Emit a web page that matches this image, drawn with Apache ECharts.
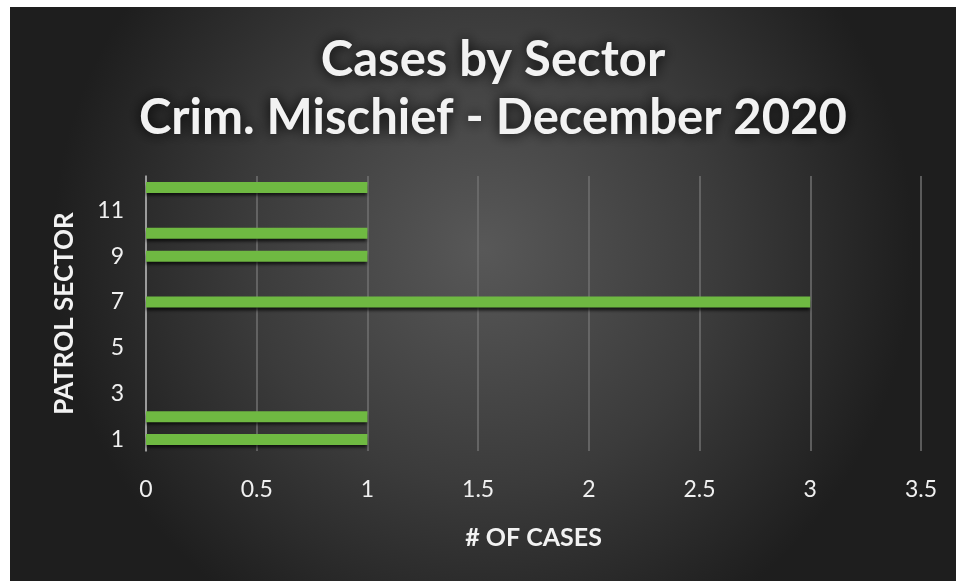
<!DOCTYPE html>
<html>
<head>
<meta charset="utf-8">
<script src="https://cdn.jsdelivr.net/npm/echarts@6/dist/echarts.min.js"></script>
<style>
html,body{margin:0;padding:0;background:#fff;width:956px;height:581px;overflow:hidden;}
#c{position:absolute;left:10px;top:7px;width:946px;height:574px;}
</style>
</head>
<body>
<div id="c"></div>
<script>
const sectors = ['1','2','3','4','5','6','7','8','9','10','11','12'];
const cases = [1,1,0,0,0,0,3,0,1,1,0,1];
const titleLines = ['Cases by Sector','Crim. Mischief - December 2020'];
const xName = '# OF CASES';
const yName = 'PATROL SECTOR';

const chart = echarts.init(document.getElementById('c'));
const FONT = 'Lato';
chart.setOption({
  animation:false,
  graphic:[{
    type:'rect', z:-10, silent:true,
    shape:{x:0,y:0,width:946,height:574},
    style:{fill:{type:'radial',x:0.5,y:0.42,r:0.75,colorStops:[
      {offset:0,color:'#585858'},{offset:0.55,color:'#3b3b3b'},{offset:1,color:'#1e1e1e'}]}}
  }],
  title:{
    text:titleLines.join('\n'),
    left:478, top:19, textAlign:'center',
    textStyle:{fontFamily:FONT,fontSize:49,fontWeight:'bold',color:'#f2f2f2',lineHeight:58,
      textShadowColor:'rgba(0,0,0,1)',textShadowBlur:14}
  },
  grid:{left:136,right:35,top:169,bottom:130,containLabel:false},
  xAxis:{
    type:'value',min:0,max:3.5,interval:0.5,
    name:xName,nameLocation:'middle',nameGap:74,
    nameTextStyle:{fontFamily:FONT,fontSize:25,fontWeight:'bold',color:'#f2f2f2'},
    axisLine:{show:false},axisTick:{show:false},
    axisLabel:{fontFamily:FONT,fontSize:23,color:'#f0f0f0',margin:27},
    splitLine:{show:true,lineStyle:{color:'#707070',width:1.5}}
  },
  yAxis:{
    type:'category',data:sectors,
    name:yName,nameLocation:'middle',nameGap:68,nameRotate:90,
    nameTextStyle:{fontFamily:FONT,fontSize:26,fontWeight:'bold',color:'#f2f2f2'},
    axisLine:{show:true,lineStyle:{color:'#b0b0b0',width:1.5}},
    axisTick:{show:false},
    axisLabel:{interval:1,fontFamily:FONT,fontSize:23,color:'#f0f0f0',margin:22}
  },
  series:[{
    type:'bar',data:cases,barWidth:11,
    itemStyle:{color:'#6fb942',shadowColor:'rgba(0,0,0,0.7)',shadowBlur:3,shadowOffsetY:3}
  }]
});
</script>
</body>
</html>
